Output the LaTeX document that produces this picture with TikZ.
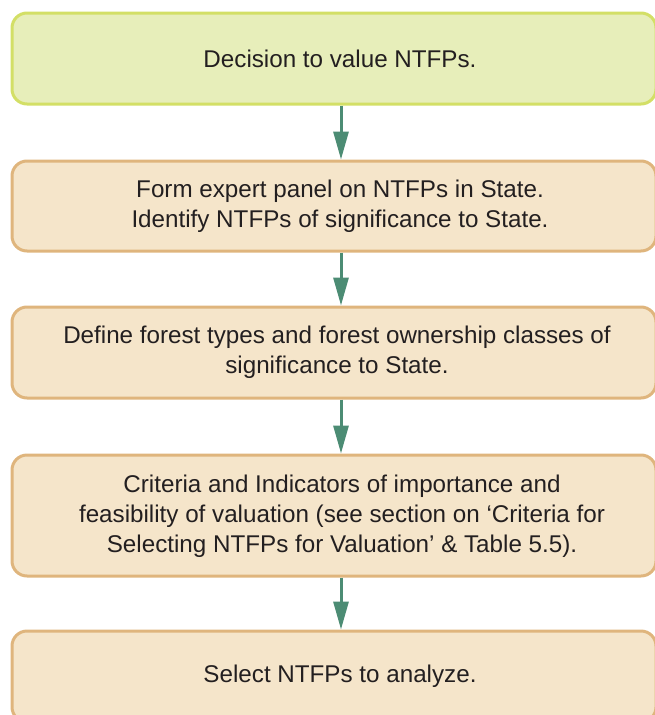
\documentclass[tikz,border=0pt]{standalone}
\usepackage{fontspec}
\setmainfont{Liberation Sans}
\usetikzlibrary{arrows.meta}

\definecolor{startfill}{HTML}{E7EEBA}
\definecolor{startline}{HTML}{D3DF66}
\definecolor{stepfill}{HTML}{F5E5CA}
\definecolor{stepline}{HTML}{DFB57D}
\definecolor{flowarrow}{HTML}{4C8C74}
\definecolor{inktext}{HTML}{231F20}

\tikzset{
  flowbox/.style={draw=stepline, fill=stepfill, line width=3pt,
    rounded corners=15pt, minimum width=644pt, inner sep=0pt},
  startbox/.style={flowbox, draw=startline, fill=startfill},
  boxtext/.style={text=inktext, align=center, inner sep=0pt,
    font=\fontsize{24.2}{30}\selectfont},
  flowline/.style={draw=flowarrow, line width=3pt,
    -{Triangle[length=28pt, width=15pt]}}
}

\begin{document}
\begin{tikzpicture}[x=1pt, y=1pt]
  \useasboundingbox (0,0) rectangle (655,-715);
  \clip (0,0) rectangle (655,-715);

  % boxes of the flow, top to bottom
  \node[startbox, minimum height=91pt] (b1) at (334,-58.5) {};
  \node[flowbox, minimum height=90pt] (b2) at (334,-206) {};
  \node[flowbox, minimum height=91pt] (b3) at (334,-352.5) {};
  \node[flowbox, minimum height=121pt] (b4) at (334,-515.5) {};
  \node[flowbox, minimum height=91pt] (b5) at (334,-676.5) {};

  % box captions
  \node[boxtext] (t1) at ([xshift=6pt]b1.center) {Decision to value NTFPs.};
  \node[boxtext] (t2) at ([xshift=6pt]b2.center)
    {Form expert panel on NTFPs in State.\\Identify NTFPs of significance to State.};
  \node[boxtext] (t3) at ([xshift=3pt]b3.center)
    {Define forest types and forest ownership classes of\\significance to State.};
  \node[boxtext] (t4) at ([xshift=8pt,yshift=-1pt]b4.center)
    {Criteria and Indicators of importance and\\feasibility of valuation (see section on ‘Criteria for\\Selecting NTFPs for Valuation’ \& Table 5.5).};
  \node[boxtext] (t5) at ([xshift=6pt]b5.center) {Select NTFPs to analyze.};

  % connectors
  \draw[flowline] ([xshift=7pt]b1.south) -- ([xshift=7pt]b2.north);
  \draw[flowline] ([xshift=7pt]b2.south) -- ([xshift=7pt]b3.north);
  \draw[flowline] ([xshift=7pt]b3.south) -- ([xshift=7pt]b4.north);
  \draw[flowline] ([xshift=7pt]b4.south) -- ([xshift=7pt]b5.north);
\end{tikzpicture}
\end{document}
